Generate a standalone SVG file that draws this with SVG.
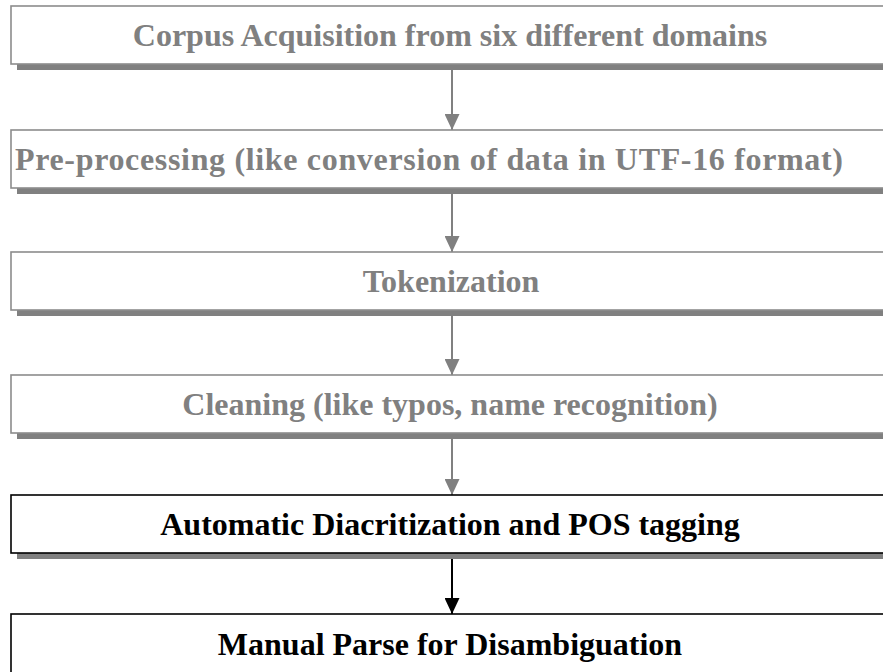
<svg xmlns="http://www.w3.org/2000/svg" width="883" height="672" viewBox="0 0 883 672">
<style>
.shadow{fill:#808080}
.gbox{fill:#fff;stroke:#8c8c8c;stroke-width:1.6}
.kbox{fill:#fff;stroke:#000;stroke-width:1.6}
text{font-family:'Liberation Serif','DejaVu Serif',serif;font-weight:700;font-size:32px;text-anchor:middle}
.gt{fill:#808080}
.kt{fill:#000}
.gl{stroke:#808080;stroke-width:2;fill:none}
.kl{stroke:#000;stroke-width:2;fill:none}
</style>
<defs>
<marker id="ag" viewBox="0 0 16 15" refX="16" refY="7.5" markerUnits="userSpaceOnUse" markerWidth="16" markerHeight="15" orient="auto">
<path d="M0,0 L16,7.5 L0,15 Z" fill="#808080"/>
</marker>
<marker id="ak" viewBox="0 0 16 15" refX="16" refY="7.5" markerUnits="userSpaceOnUse" markerWidth="16" markerHeight="15" orient="auto">
<path d="M0,0 L16,7.5 L0,15 Z" fill="#000"/>
</marker>
</defs>
<g id="connectors">
<line class="gl" x1="452" y1="64" x2="452" y2="130" marker-end="url(#ag)"/>
<line class="gl" x1="452" y1="188" x2="452" y2="252" marker-end="url(#ag)"/>
<line class="gl" x1="452" y1="310" x2="452" y2="375" marker-end="url(#ag)"/>
<line class="gl" x1="452" y1="433" x2="452" y2="495" marker-end="url(#ag)"/>
<line class="kl" x1="452" y1="553" x2="452" y2="614" marker-end="url(#ak)"/>
</g>
<g id="n1">
<rect class="shadow" x="17" y="12" width="880" height="58"/>
<rect class="gbox" x="11" y="6" width="880" height="58"/>
<text class="gt" x="450" y="46">Corpus Acquisition from six different domains</text>
</g>
<g id="n2">
<rect class="shadow" x="17" y="136" width="880" height="58"/>
<rect class="gbox" x="11" y="130" width="880" height="58"/>
<text class="gt" x="429" y="170" textLength="828" lengthAdjust="spacing">Pre-processing (like conversion of data in UTF-16 format)</text>
</g>
<g id="n3">
<rect class="shadow" x="17" y="258" width="880" height="58"/>
<rect class="gbox" x="11" y="252" width="880" height="58"/>
<text class="gt" x="451" y="292">Tokenization</text>
</g>
<g id="n4">
<rect class="shadow" x="17" y="381" width="880" height="58"/>
<rect class="gbox" x="11" y="375" width="880" height="58"/>
<text class="gt" x="450" y="415">Cleaning (like typos, name recognition)</text>
</g>
<g id="n5">
<rect class="shadow" x="17" y="501" width="880" height="58"/>
<rect class="kbox" x="11" y="495" width="880" height="58"/>
<text class="kt" x="450" y="535">Automatic Diacritization and POS tagging</text>
</g>
<g id="n6">
<rect class="shadow" x="17" y="620" width="880" height="58"/>
<rect class="kbox" x="11" y="614" width="880" height="70"/>
<text class="kt" x="450" y="655">Manual Parse for Disambiguation</text>
</g>
</svg>
